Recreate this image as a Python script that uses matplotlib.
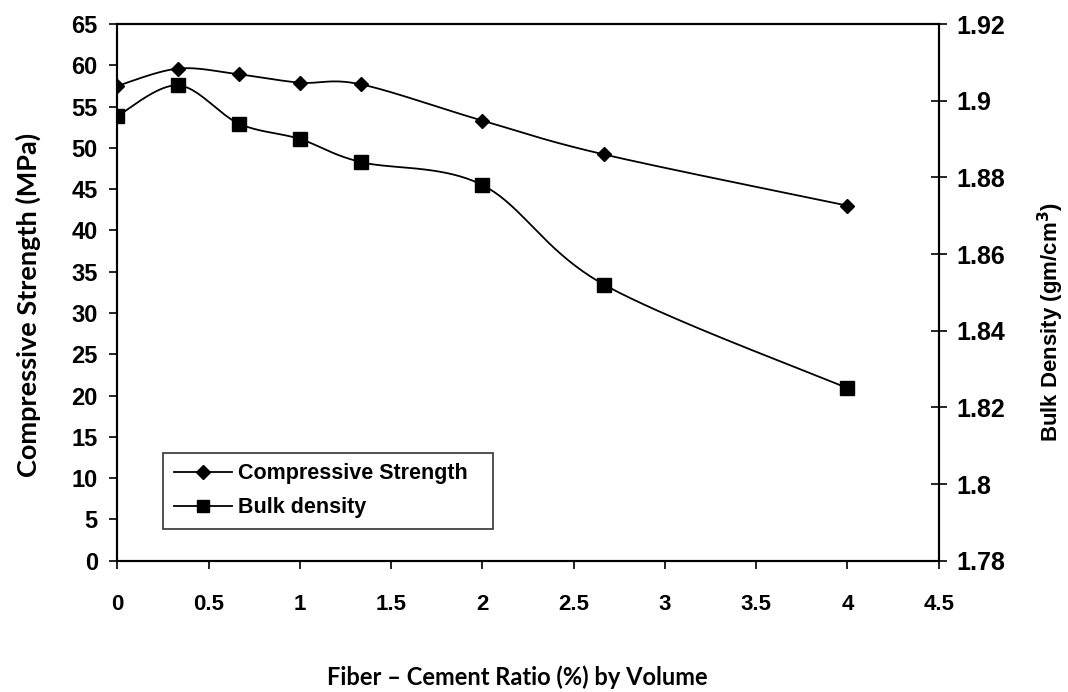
import numpy as np
import matplotlib
matplotlib.use("Agg")
import matplotlib.pyplot as plt
from matplotlib.lines import Line2D

# ---- data ----
ratio = [0.0, 0.333, 0.667, 1.0, 1.333, 2.0, 2.667, 4.0]
strength = [57.5, 59.6, 58.9, 57.9, 57.7, 53.3, 49.2, 43.0]
density = [1.896, 1.904, 1.894, 1.890, 1.884, 1.878, 1.852, 1.825]

x_ticks = [0, 0.5, 1, 1.5, 2, 2.5, 3, 3.5, 4, 4.5]
x_ticklabels = ["0", "0.5", "1", "1.5", "2", "2.5", "3", "3.5", "4", "4.5"]
left_ticks = list(range(0, 70, 5))
right_ticks = [1.78, 1.80, 1.82, 1.84, 1.86, 1.88, 1.90, 1.92]
right_ticklabels = ["1.78", "1.8", "1.82", "1.84", "1.86", "1.88", "1.9", "1.92"]


def smooth(x, y, n=40):
    """Excel-like smoothed line (Catmull-Rom style Bezier segments)."""
    P = np.column_stack([x, y]).astype(float)
    P = np.vstack([P[0], P, P[-1]])
    t = np.linspace(0, 1, n)[:, None]
    out = []
    for i in range(len(P) - 3):
        p0, p1, p2, p3 = P[i], P[i + 1], P[i + 2], P[i + 3]
        c1 = p1 + (p2 - p0) / 6.0
        c2 = p2 - (p3 - p1) / 6.0
        seg = ((1 - t) ** 3) * p1 + 3 * ((1 - t) ** 2) * t * c1 + 3 * (1 - t) * t ** 2 * c2 + t ** 3 * p2
        out.append(seg if i == 0 else seg[1:])
    S = np.vstack(out)
    return S[:, 0], S[:, 1]


fig = plt.figure(figsize=(10.68, 6.92), dpi=100)
ax = fig.add_axes([117.3 / 1068, 1 - 560.7 / 692, (938.7 - 117.3) / 1068, (560.7 - 24) / 692])
ax2 = ax.twinx()

lw = 1.3
sx, sy = smooth(ratio, strength)
ax.plot(sx, sy, color="black", lw=lw, zorder=3)
ax.plot(ratio, strength, ls="none", marker="D", ms=7, color="black", zorder=4)

dx, dy = smooth(ratio, density)
ax2.plot(dx, dy, color="black", lw=lw, zorder=3)
ax2.plot(ratio, density, ls="none", marker="s", ms=10, color="black", zorder=4)

ax.set_xlim(0, 4.5)
ax.set_ylim(0, 65)
ax2.set_ylim(1.78, 1.92)

tick_font = dict(family=["Liberation Sans", "DejaVu Sans"], weight="bold", size=17)
right_font = dict(family=["Liberation Sans", "DejaVu Sans"], weight="bold", size=18)
narrow_font = dict(family=["Liberation Sans Narrow", "DejaVu Sans Condensed", "Liberation Sans", "DejaVu Sans"],
                   weight="bold", size=16, stretch="condensed")

ax.set_xticks(x_ticks)
ax.set_xticklabels(x_ticklabels, **narrow_font)
ax.set_yticks(left_ticks)
ax.set_yticklabels([str(v) for v in left_ticks], **tick_font)
ax2.set_yticks(right_ticks)
ax2.set_yticklabels(right_ticklabels, **right_font)

ax.tick_params(axis="x", direction="out", length=6, width=1.2, pad=18)
ax.tick_params(axis="y", direction="out", length=6, width=1.2, pad=8)
ax2.tick_params(axis="y", direction="inout", length=12, width=1.2, pad=7)

for a in (ax, ax2):
    for s in a.spines.values():
        s.set_linewidth(1.5)
        s.set_color("black")

label_font = ["Lato", "Open Sans", "DejaVu Sans"]
fig.text(28 / 1068, 1 - 305 / 692, "Compressive Strength (MPa)", rotation=90,
         ha="center", va="center", family=label_font, weight="bold", size=19.5)
fig.text(517 / 1068, 1 - 677 / 692, "Fiber \u2013 Cement Ratio (%) by Volume",
         ha="center", va="center", family=label_font, weight="bold", size=17)
fig.text(1051 / 1068, 1 - 322 / 692, "Bulk Density (gm/cm$^{\\mathbf{3}}$)", rotation=90,
         ha="center", va="center", family=["Liberation Sans", "DejaVu Sans"], weight="bold", size=16)

handles = [
    Line2D([], [], color="black", lw=lw, marker="D", ms=7),
    Line2D([], [], color="black", lw=lw, marker="s", ms=8),
]
leg = ax.legend(handles, ["Compressive Strength", "Bulk density"],
                loc="lower left", bbox_to_anchor=(0.0556, 0.059, 0.402, 0.14), mode="expand",
                borderaxespad=0, frameon=True, fancybox=False, handlelength=2.7, handletextpad=0.3,
                labelspacing=0.6, borderpad=0.5,
                prop=dict(family=["Liberation Sans", "DejaVu Sans"], weight="bold", size=15.5))
leg.get_frame().set_edgecolor("black")
leg.get_frame().set_linewidth(1.2)

fig.savefig("out.png", dpi=100)
